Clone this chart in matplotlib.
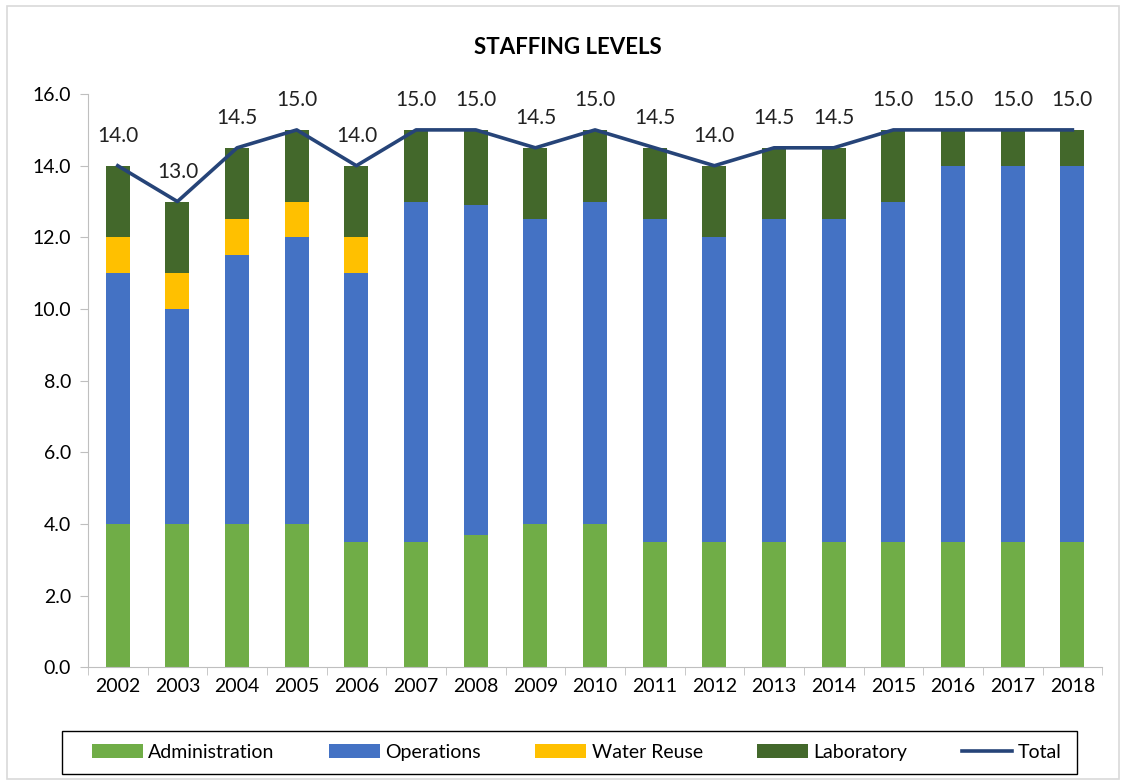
import numpy as np
import matplotlib.pyplot as plt
from matplotlib.patches import Rectangle

plt.rcParams['font.family'] = ['Lato', 'DejaVu Sans']

years = ['2002', '2003', '2004', '2005', '2006', '2007', '2008', '2009', '2010',
         '2011', '2012', '2013', '2014', '2015', '2016', '2017', '2018']
administration = [4.0, 4.0, 4.0, 4.0, 3.5, 3.5, 3.7, 4.0, 4.0,
                  3.5, 3.5, 3.5, 3.5, 3.5, 3.5, 3.5, 3.5]
operations = [7.0, 6.0, 7.5, 8.0, 7.5, 9.5, 9.2, 8.5, 9.0,
              9.0, 8.5, 9.0, 9.0, 9.5, 10.5, 10.5, 10.5]
water_reuse = [1.0, 1.0, 1.0, 1.0, 1.0, 0, 0, 0, 0,
               0, 0, 0, 0, 0, 0, 0, 0]
laboratory = [2.0, 2.0, 2.0, 2.0, 2.0, 2.0, 2.1, 2.0, 2.0,
              2.0, 2.0, 2.0, 2.0, 2.0, 1.0, 1.0, 1.0]
total = [14.0, 13.0, 14.5, 15.0, 14.0, 15.0, 15.0, 14.5, 15.0,
         14.5, 14.0, 14.5, 14.5, 15.0, 15.0, 15.0, 15.0]

W, H = 1127, 784
fig = plt.figure(figsize=(W / 100, H / 100), dpi=100)
ax = fig.add_axes([0.078, 0.149, 0.9, 0.731])

x = np.arange(len(years))
w = 0.4
bottom = np.zeros(len(years))
series = [
    (administration, '#70AD47', 'Administration'),
    (operations, '#4472C4', 'Operations'),
    (water_reuse, '#FFC000', 'Water Reuse'),
    (laboratory, '#43682B', 'Laboratory'),
]
handles = []
for vals, col, name in series:
    vals = np.array(vals)
    b = ax.bar(x, vals, w, bottom=bottom, color=col, label=name, zorder=2)
    handles.append(b)
    bottom += vals

line, = ax.plot(x, total, color='#264478', lw=2.6, label='Total', zorder=3)
handles.append(line)
for xi, t in zip(x, total):
    ax.annotate(f'{t:.1f}', (xi, t), xytext=(0, 14), textcoords='offset points',
                ha='center', va='bottom', fontsize=15, color='#222222')

ax.set_xlim(-0.5, len(years) - 0.5)
ax.set_ylim(0, 16)
ax.set_yticks(np.arange(0, 16.1, 2))
ax.set_yticklabels([f'{v:.1f}' for v in np.arange(0, 16.1, 2)])
ax.set_xticks(x)
ax.set_xticklabels(years)
ax.set_xticks(np.arange(-0.5, len(years)), minor=True)
ax.tick_params(axis='x', which='major', length=0, labelsize=14, pad=8)
ax.tick_params(axis='x', which='minor', length=6, color='#BFBFBF')
ax.tick_params(axis='y', length=6, color='#BFBFBF', labelsize=14, pad=6)
for s in ['top', 'right']:
    ax.spines[s].set_visible(False)
ax.spines['left'].set_color('#BFBFBF')
ax.spines['bottom'].set_color('#BFBFBF')

fig.text(0.504, 0.94, 'STAFFING LEVELS', ha='center', va='center',
         fontsize=16, fontweight='bold')

# legend: entries spread inside a hand-drawn box, like the Excel one
box_x0, box_x1, box_y0, box_y1 = 62 / W, 1077 / W, 1 - 774 / H, 1 - 731 / H
leg = fig.legend(handles, [h.get_label() for h in handles],
                 loc='center left', mode='expand', ncol=5,
                 bbox_to_anchor=(92 / W, (box_y0 + box_y1) / 2, 970 / W, 0),
                 fontsize=14, frameon=False,
                 handlelength=2.6, handleheight=0.7,
                 handletextpad=0.3, borderpad=0, borderaxespad=0)
fig.patches.append(Rectangle((box_x0, box_y0), box_x1 - box_x0, box_y1 - box_y0,
                             transform=fig.transFigure, fill=False,
                             edgecolor='black', lw=1.0))

fig.patches.append(Rectangle((0.006, 0.006), 0.987, 0.986, transform=fig.transFigure,
                             fill=False, edgecolor='#D9D9D9', lw=1.2))

fig.savefig('out.png', dpi=100)
